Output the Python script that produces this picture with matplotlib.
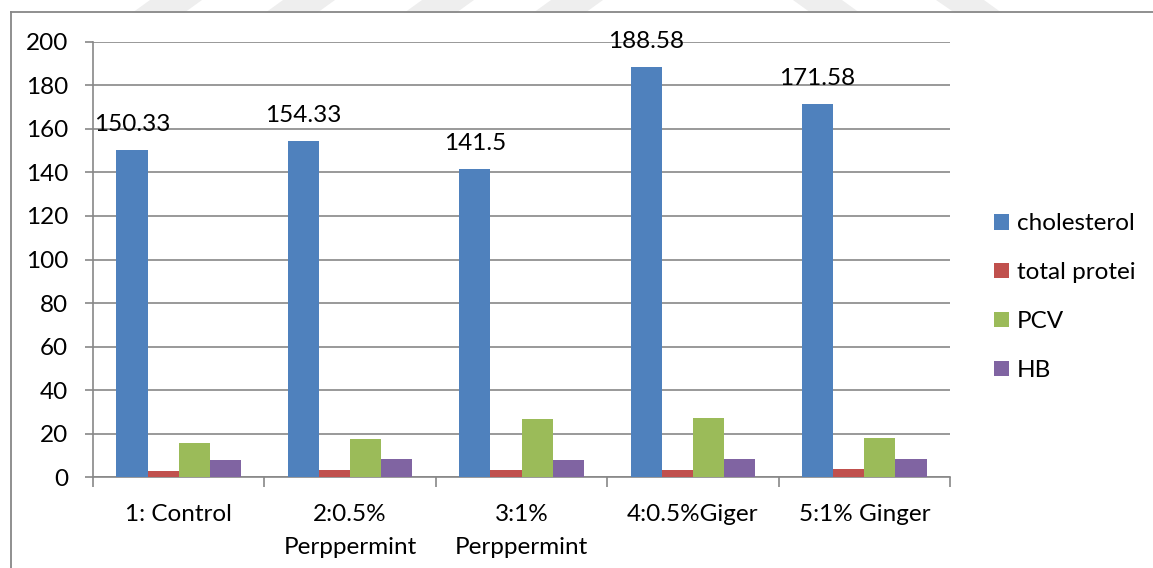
import matplotlib
matplotlib.use("Agg")
import matplotlib.pyplot as plt
import numpy as np
from matplotlib.patches import Polygon, Patch
from matplotlib.lines import Line2D

plt.rcParams['font.family'] = ['Lato', 'DejaVu Sans']

# Groups and measured values
categories = ["1: Control", "2:0.5%\nPerppermint", "3:1%\nPerppermint", "4:0.5%Giger", "5:1% Ginger"]
series_names = ["cholesterol", "total protei", "PCV", "HB"]
cholesterol = [150.33, 154.33, 141.5, 188.58, 171.58]
total_protein = [2.9, 3.2, 3.2, 3.2, 3.7]
pcv = [15.7, 17.4, 26.6, 27.2, 17.9]
hb = [7.9, 8.4, 7.9, 8.4, 8.5]
y_ticks = [0, 20, 40, 60, 80, 100, 120, 140, 160, 180, 200]

colors = ["#4F81BD", "#C0504D", "#9BBB59", "#8064A2"]
grey = "#878787"
FS = 17.5

W, H = 1153, 568
fig = plt.figure(figsize=(W / 100, H / 100), dpi=100)

# faint diagonal stripes across the top edge
stripes = [
    [(132, 13), (184, 13), (202, 0), (150, 0)],
    [(265, 13), (317, 13), (335, 0), (283, 0)],
    [(404, 13), (456, 13), (474, 0), (422, 0)],
    [(533, 13), (585, 13), (603, 0), (551, 0)],
    [(811, 13), (860, 13), (842, 0), (793, 0)],
    [(955, 13), (1002, 13), (984, 0), (936, 0)],
]
for s in stripes:
    fig.patches.append(Polygon([(x / W, 1 - y / H) for x, y in s], closed=True,
                               transform=fig.transFigure, facecolor="#eeeeee",
                               edgecolor="none", zorder=0))

# chart-area frame (left and top edges visible)
fig.add_artist(Line2D([10.7 / W, 10.7 / W], [0, 1 - 12 / H], color=grey, lw=1.3,
                      transform=fig.transFigure))
fig.add_artist(Line2D([10.7 / W, 1], [1 - 12 / H, 1 - 12 / H], color=grey, lw=1.3,
                      transform=fig.transFigure))

left, right = 93 / W, 950 / W
bottom, top = 1 - 477.3 / H, 1 - 41.7 / H
ax = fig.add_axes([left, bottom, right - left, top - bottom])

n = len(categories)
x = np.arange(n)
bw = 1 / 5.5
all_series = [cholesterol, total_protein, pcv, hb]
handles = []
for k, (vals, c, name) in enumerate(zip(all_series, colors, series_names)):
    ax.bar(x + (k - 1.5) * bw, vals, width=bw, color=c, zorder=3, label=name)
    handles.append(Patch(facecolor=c, edgecolor="none", label=name))

for xi, v in zip(x, cholesterol):
    ax.annotate(f"{v:g}", (xi - 1.5 * bw, v), xytext=(0, 13.5), textcoords="offset points",
                ha="center", va="baseline", fontsize=FS, color="black", zorder=5,
                annotation_clip=False)

ax.set_xlim(-0.5, n - 0.5)
ax.set_ylim(0, 200)
ax.set_yticks(y_ticks)
ax.set_yticklabels([str(t) for t in y_ticks], fontsize=FS)
ax.yaxis.grid(True, color=grey, lw=1.2, zorder=0)
ax.set_axisbelow(True)

ax.set_xticks(np.arange(n + 1) - 0.5)
ax.set_xticklabels([])
ax.set_xticks(x, minor=True)
ax.set_xticklabels(categories, minor=True, fontsize=FS, linespacing=1.7)
ax.tick_params(axis="x", which="minor", length=0, pad=19)
ax.tick_params(axis="x", which="major", length=7, width=1.2, color=grey)
ax.tick_params(axis="y", length=6, width=1.2, color=grey, pad=12)

for side in ["top", "right"]:
    ax.spines[side].set_visible(False)
for side in ["left", "bottom"]:
    ax.spines[side].set_color(grey)
    ax.spines[side].set_linewidth(1.2)

fig.legend(handles=handles, loc="upper left", bbox_to_anchor=(984 / W, 1 - 203.5 / H),
           frameon=False, fontsize=FS, handlelength=0.62, handleheight=0.62,
           handletextpad=0.32, labelspacing=1.15, borderaxespad=0)

fig.savefig("out.png", dpi=100, facecolor="white")
